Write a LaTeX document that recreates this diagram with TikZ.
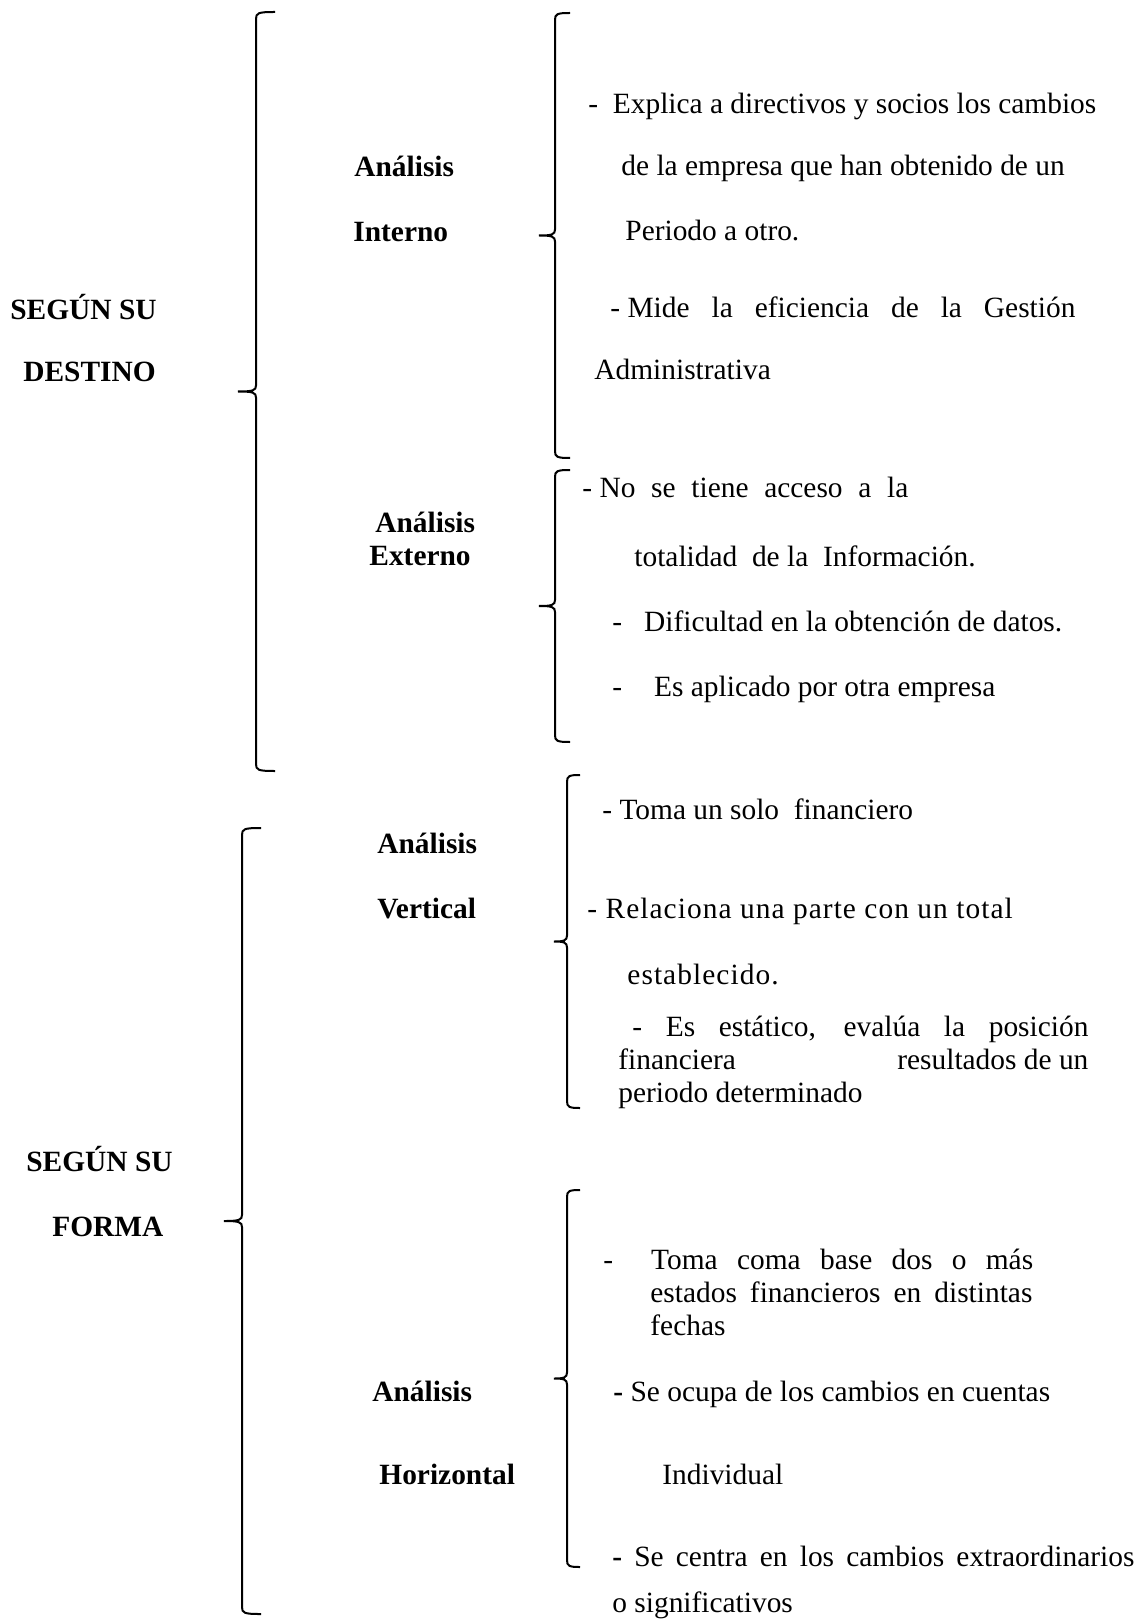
\documentclass[tikz,border=0pt]{standalone}
\usepackage{fontspec}
\setmainfont{Liberation Serif}
% one line spread to a given width
\newcommand{\spreadline}[2]{\makebox[#1][s]{#2}}
% left brace: x of the bar, top, bottom, hook length, tip length
\newcommand{\curly}[5]{%
  \draw[bracket] (#1+#4,#2) .. controls (#1+2,#2) and (#1,#2+1) .. (#1,#2+7)
    -- (#1,{(#2+#3)/2-6}) .. controls (#1,{(#2+#3)/2-1}) and (#1-3,{(#2+#3)/2}) .. (#1-#5,{(#2+#3)/2})
    .. controls (#1-3,{(#2+#3)/2}) and (#1,{(#2+#3)/2+1}) .. (#1,{(#2+#3)/2+6})
    -- (#1,#3-7) .. controls (#1,#3-1) and (#1+2,#3) .. (#1+#4,#3);}
\begin{document}
\begin{tikzpicture}[x=0.5pt, y=-0.5pt,
    bracket/.style={line width=1pt},
    txt/.style={anchor=base west, inner sep=0pt, font=\fontsize{14.7}{16.5}\selectfont},
    head/.style={txt, font=\fontsize{14.7}{16.5}\selectfont\bfseries},
    wide/.style={txt, font=\fontsize{14.7}{16.5}\selectfont\addfontfeature{LetterSpace=3.6}}]
  \useasboundingbox (0,0) rectangle (1145,1620);
  % braces
  \curly{256}{12}{771}{19}{18}
  \curly{555}{13}{458}{15}{16}
  \curly{555}{470}{742}{15}{16}
  \curly{242}{828}{1614}{19}{18}
  \curly{567}{775}{1108}{13}{13}
  \curly{567}{1190}{1567}{13}{13}
  % segun su destino
  \node[head] (destino1) at (10,320) {SEGÚN SU};
  \node[head] (destino2) at (23,382) {DESTINO};
  \node[head] (interno1) at (354,177) {Análisis};
  \node[head] (interno2) at (353,242) {Interno};
  \node[txt] (int1) at (588,114) {-~ Explica a directivos y socios los cambios};
  \node[txt] (int2) at (621,176) {de la empresa que han obtenido de un};
  \node[txt] (int3) at (625,241) {Periodo a otro.};
  \node[txt] (int4) at (610,318) {\spreadline{232.5pt}{\mbox{- Mide} la eficiencia de la Gestión}};
  \node[txt] (int5) at (594,380) {Administrativa};
  \node[head] (externo1) at (375,532) {Análisis};
  \node[head] (externo2) at (369,565) {Externo};
  \node[txt] (ext1) at (582,497) {\spreadline{163pt}{\mbox{- No} se tiene acceso a la}};
  \node[txt] (ext2) at (634,566) {totalidad~ de la~ Información.};
  \node[txt] (ext3) at (612,631) {-\hspace{11pt}Dificultad en la obtención de datos.};
  \node[txt] (ext4) at (612,696) {-\hspace{16pt}Es aplicado por otra empresa};
  % segun su forma
  \node[head] (forma1) at (26,1171) {SEGÚN SU};
  \node[head] (forma2) at (52,1236) {FORMA};
  \node[head] (vertical1) at (377,853) {Análisis};
  \node[head] (vertical2) at (377,918) {Vertical};
  \node[txt] (ver1) at (602,819) {- Toma un solo~ financiero};
  \node[wide] (ver2) at (587,918) {- Relaciona una parte con un total};
  \node[wide] (ver3) at (627,984) {establecido.};
  \node[txt] (ver4) at (632,1036) {\spreadline{228pt}{- Es estático, evalúa la posición}};
  \node[txt] (ver5) at (618,1069) {\spreadline{235pt}{financiera\hfill resultados de un}};
  \node[txt] (ver6) at (618,1102) {periodo determinado};
  \node[head] (horizontal1) at (372,1401) {Análisis};
  \node[head] (horizontal2) at (379,1484) {Horizontal};
  \node[txt] (hor1) at (603,1269) {-\hspace{19pt}\spreadline{191pt}{Toma coma base dos o más}};
  \node[txt] (hor2) at (650,1302) {\spreadline{191pt}{estados financieros en distintas}};
  \node[txt] (hor3) at (650,1335) {fechas};
  \node[txt] (hor4) at (613,1401) {\textbf{-} Se ocupa de los cambios en cuentas};
  \node[txt] (hor5) at (662,1484) {Individual};
  \node[txt] (hor6) at (612,1566) {\spreadline{261pt}{\textbf{-} Se centra en los cambios extraordinarios}};
  \node[txt] (hor7) at (612,1612) {o significativos};
\end{tikzpicture}
\end{document}
